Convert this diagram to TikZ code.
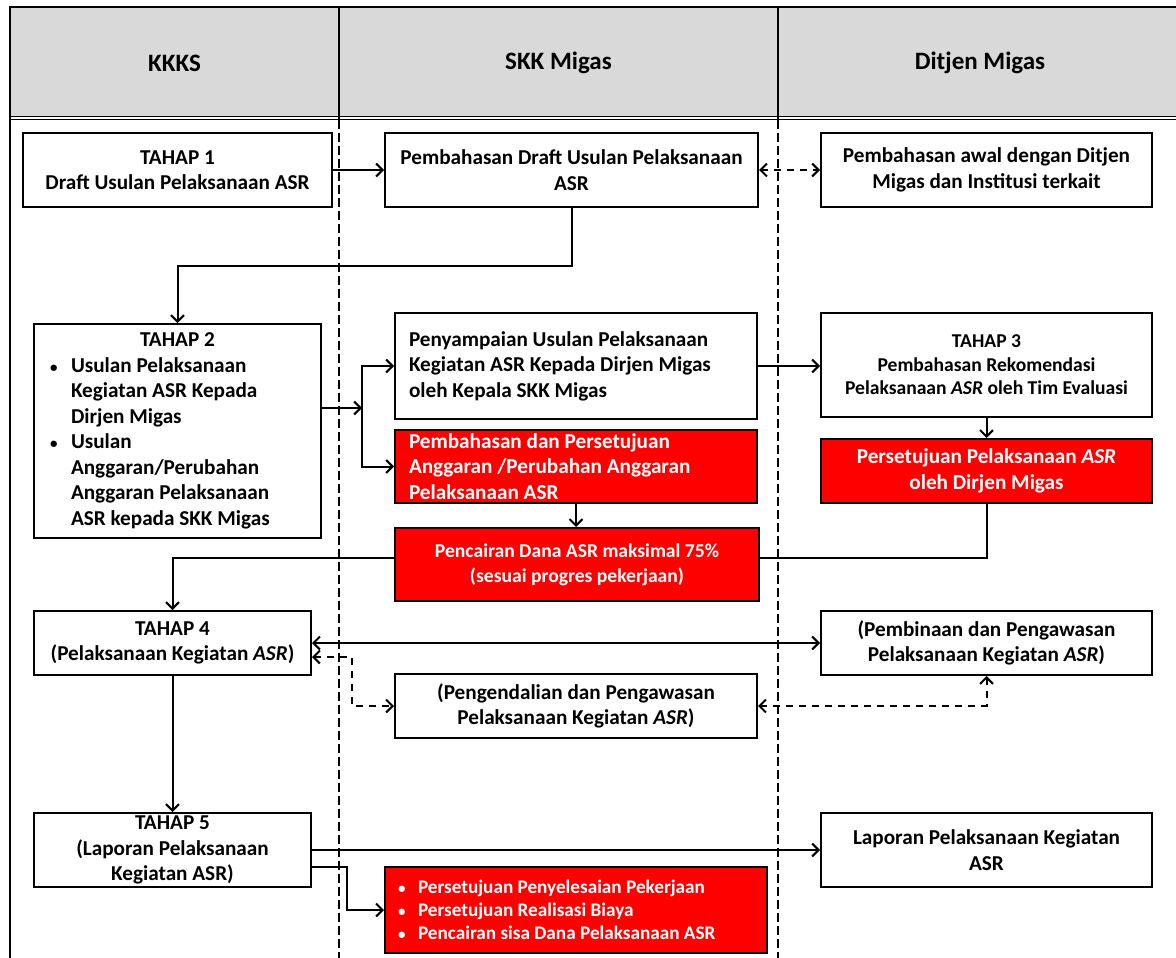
\documentclass[tikz,border=0pt]{standalone}
\usepackage{fontspec}
\setmainfont{Carlito}
\usetikzlibrary{arrows.meta}
\definecolor{hdrgray}{HTML}{D9D9D9}
\definecolor{boxred}{HTML}{FF0000}
\newcommand\smallbul{{\fontsize{15}{15}\selectfont\textbullet}}
\tikzset{
  box/.style={draw, line width=2pt, inner sep=0pt, align=center,
    font=\bfseries\fontsize{21.2}{25.5}\selectfont},
  redbox/.style={box, fill=boxred, text=white},
  hdrtext/.style={font=\bfseries\fontsize{25}{29}\selectfont},
  tip/.tip={Straight Barb[length=6.5pt,width=13pt,line width=2pt]},
  conn/.style={line width=2pt, -tip},
  bothconn/.style={line width=2pt, tip-tip},
  plainconn/.style={line width=2pt},
  dconn/.style={line width=2pt, tip-tip, dash pattern=on 7pt off 6pt},
  lane/.style={line width=1.4pt, dash pattern=on 9pt off 4pt},
  frame/.style={line width=1.4pt}
}
\begin{document}
\begin{tikzpicture}[x=1pt,y=-1pt]
\useasboundingbox (0,0) rectangle (1176,958);
\clip (0,0) rectangle (1176,958);
% header
\fill[hdrgray] (10,7) rectangle (1182,117);
\draw[frame] (1182,7) -- (10,7) -- (10,958);
\draw[frame] (10,116.5) -- (1182,116.5);
\draw[frame] (10,119.5) -- (1182,119.5);
\draw[frame] (339,7) -- (339,119.5);
\draw[frame] (778,7) -- (778,119.5);
\draw[lane] (339,119.5) -- (339,958);
\draw[lane] (778,119.5) -- (778,958);
\node[hdrtext] (hk) at (174.5,63) {KKKS};
\node[hdrtext] (hs) at (558.5,63) {SKK Migas};
\node[hdrtext] (hd) at (980,63) {Ditjen Migas};

% boxes
\node[box, minimum width=309pt, minimum height=74pt] (t1) at (177.5,170)
  {TAHAP 1\\Draft Usulan Pelaksanaan ASR};
\node[box, minimum width=373pt, minimum height=74pt] (pdraft) at (571.5,170)
  {Pembahasan Draft Usulan Pelaksanaan\\ASR};
\node[box, minimum width=331pt, minimum height=74pt] (pawal) at (986.5,170)
  {Pembahasan awal dengan Ditjen\\Migas dan Institusi terkait};

\node[box, minimum width=287pt, minimum height=214pt, align=flush left,
  text width=255pt, inner xsep=16pt] (t2) at (177.5,431)
  {\makebox[255pt][c]{TAHAP 2}\\
   \makebox[21pt][l]{\smallbul}Usulan Pelaksanaan\\
   \hspace*{21pt}Kegiatan ASR Kepada\\
   \hspace*{21pt}Dirjen Migas\\
   \makebox[21pt][l]{\smallbul}Usulan\\
   \hspace*{21pt}Anggaran/Perubahan\\
   \hspace*{21pt}Anggaran Pelaksanaan\\
   \hspace*{21pt}ASR kepada SKK Migas};

\node[box, minimum width=362pt, minimum height=106pt, align=flush left,
  text width=334pt, inner xsep=14pt] (penyamp) at (576,366)
  {Penyampaian Usulan Pelaksanaan\\Kegiatan ASR Kepada Dirjen Migas\\oleh Kepala SKK Migas};
\node[redbox, minimum width=362pt, minimum height=73pt, align=flush left,
  text width=334pt, inner xsep=14pt] (pemb) at (576,466.5)
  {Pembahasan dan Persetujuan\\Anggaran /Perubahan Anggaran\\Pelaksanaan ASR};

\node[box, minimum width=331pt, minimum height=104pt,
  font=\bfseries\fontsize{19.6}{23.5}\selectfont] (t3) at (986.5,365)
  {TAHAP 3\\Pembahasan Rekomendasi\\Pelaksanaan \textit{ASR} oleh Tim Evaluasi};
\node[redbox, minimum width=331pt, minimum height=64pt] (pers) at (986.5,471)
  {Persetujuan Pelaksanaan \textit{ASR}\\oleh Dirjen Migas};

\node[redbox, minimum width=364pt, minimum height=73pt,
  font=\bfseries\fontsize{19.6}{25}\selectfont] (pencair) at (577,564.5)
  {Pencairan Dana ASR maksimal 75\%\\(sesuai progres pekerjaan)};

\node[box, minimum width=277pt, minimum height=64pt] (t4) at (172.5,643)
  {TAHAP 4\\(Pelaksanaan Kegiatan \textit{ASR})};
\node[box, minimum width=331pt, minimum height=64pt] (pembin) at (986.5,643)
  {(Pembinaan dan Pengawasan\\Pelaksanaan Kegiatan \textit{ASR})};
\node[box, minimum width=362pt, minimum height=64pt] (pengend) at (576,706)
  {(Pengendalian dan Pengawasan\\Pelaksanaan Kegiatan \textit{ASR})};

\node[box, minimum width=277pt, minimum height=74pt] (t5) at (172.5,850)
  {TAHAP 5\\(Laporan Pelaksanaan\\Kegiatan ASR)};
\node[box, minimum width=331pt, minimum height=74pt] (lapor) at (986.5,850)
  {Laporan Pelaksanaan Kegiatan\\ASR};
\node[redbox, minimum width=382pt, minimum height=86pt, align=flush left,
  text width=376pt, inner xsep=3pt, inner ysep=0pt,
  font=\bfseries\fontsize{19.2}{23}\selectfont] (redbot) at (576,910)
  {\hspace*{10pt}\makebox[20pt][l]{\smallbul}Persetujuan Penyelesaian Pekerjaan\\
   \hspace*{10pt}\makebox[20pt][l]{\smallbul}Persetujuan Realisasi Biaya\\
   \hspace*{10pt}\makebox[20pt][l]{\smallbul}Pencairan sisa Dana Pelaksanaan ASR};

% helper coordinates
\coordinate (split) at (362,408);
\coordinate (pj) at (986.5,558);
\coordinate (dk) at (352,657);
\coordinate (t5k) at (347,867);

% connectors
\draw[conn] (t1.east) -- (pdraft.west);
\draw[dconn] (pdraft.east) -- (pawal.west);
\draw[conn] (pdraft.south) -- ++(0,58) -| (t2.north);
\draw[conn] (t2.east |- split) -- (split);
\draw[conn] (split) |- (penyamp.west);
\draw[conn] (split) |- (pemb.west);
\draw[conn] (penyamp.east) -- (penyamp.east -| t3.west);
\draw[conn] (t3.south) -- (pers.north);
\draw[conn] (pemb.south) -- (pemb.south |- pencair.north);
\draw[plainconn] (pers.south) -- (pj) -- (pj -| pencair.east);
\draw[conn] (pencair.west |- pj) -| (t4.north);
\draw[bothconn] (t4.east) -- (pembin.west);
\draw[dconn] (t4.east |- dk) -- (dk) |- (pengend.west);
\draw[dconn] (pengend.east) -| (pembin.south);
\draw[conn] (t4.south) -- (t5.north);
\draw[conn] (t5.east) -- (t5.east -| lapor.west);
\draw[conn] (t5.east |- t5k) -- (t5k) |- (redbot.west);
\end{tikzpicture}
\end{document}
